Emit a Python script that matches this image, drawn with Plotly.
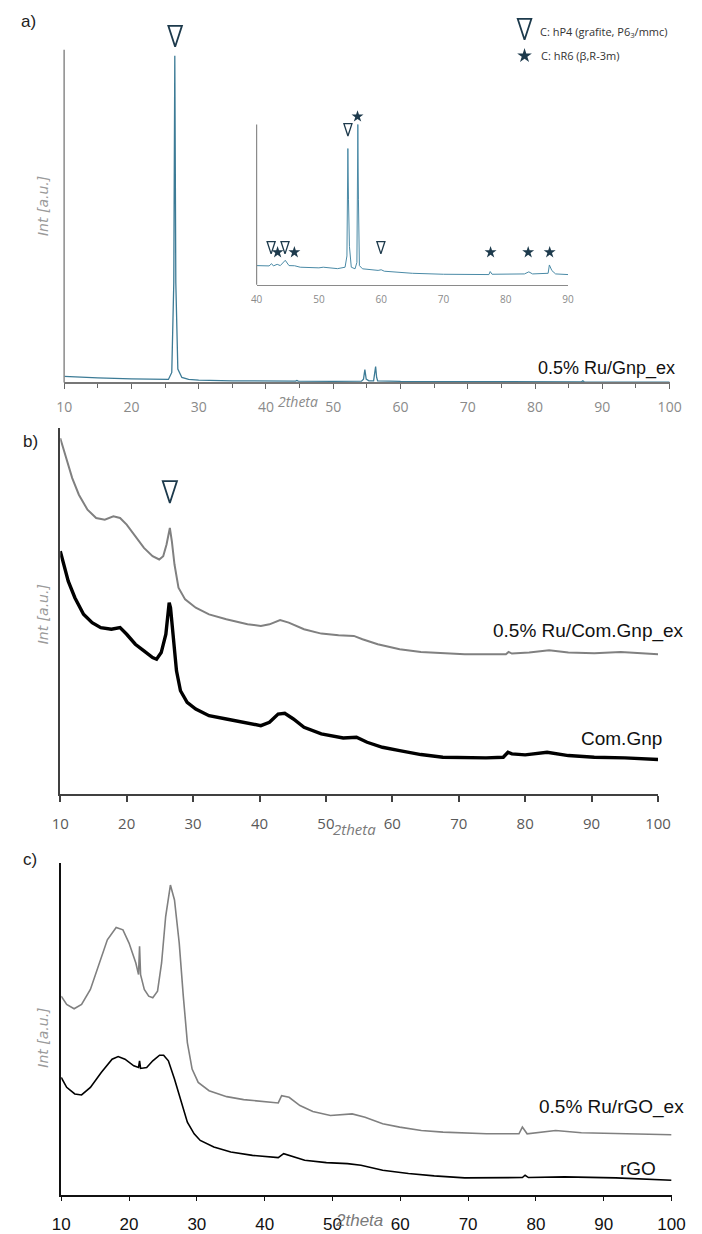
"""
XRD patterns of the Ru / carbon supports, three stacked panels:
a) 0.5% Ru/Gnp_ex with a 40-90 inset, b) Com.Gnp pair, c) rGO pair.
"""

import plotly.graph_objects as go

W, H = 702, 1234

# ---- panel a: 0.5% Ru/Gnp_ex, full scan (intensity in arb. units, axis top = 1000)
A_X = [10, 12, 15, 20, 23.8, 24.0, 24.2, 25.5, 26.0, 26.3, 26.45, 26.6, 26.9, 27.5,
       28.5, 30, 35, 40, 44.4, 44.6, 44.8, 50, 54.2, 54.5, 54.7, 54.9, 55.3, 56.0,
       56.2, 56.3, 56.45, 56.6, 60, 70, 80, 86.9, 87.1, 87.3, 100]
A_Y = [18, 16, 14, 11, 9, 11, 9, 9, 30, 300, 982, 300, 40, 15,
       9, 7, 5, 4, 4, 6, 4, 3, 4, 10, 39, 10, 5, 5,
       30, 48, 15, 5, 3, 2, 2, 2, 5, 2, 1]

# ---- inset of panel a (40-90 deg, axis top = 100)
IN_X = [40, 42, 42.4, 42.7, 43.3, 43.8, 44.6, 45.2, 46.1, 47, 50, 50.7, 53, 54.2,
        54.5, 54.65, 54.75, 54.9, 55.2, 55.8, 56.1, 56.25, 56.35, 56.5, 57, 59.5,
        60, 60.5, 65, 70, 77.3, 77.5, 77.8, 83, 83.7, 84.3, 86.8, 87.0, 87.4, 88, 90]
IN_Y = [12.0, 11.8, 13.2, 11.8, 12.8, 12.0, 15.3, 12.0, 11.9, 11.0, 10.6, 11.0, 10.1, 11.0,
        18, 85, 53, 24, 11, 10, 14, 100, 53, 12, 10, 9.0,
        9.4, 8.5, 7.2, 6.6, 6.4, 8.3, 6.6, 6.8, 8.1, 6.8, 7.2, 12.4, 8.9, 6.8, 6.4]

# phase markers (reflection positions)
HP4_A_X, HP4_A_Y = [26.5], [1009]
HP4_IN_X = [42.33, 44.56, 54.66, 59.95]
HP4_IN_Y = [19.3, 19.3, 92.8, 19.3]
HR6_IN_X = [43.37, 46.06, 56.2, 77.56, 83.6, 87.05]
HR6_IN_Y = [20.3, 20.3, 105, 20.3, 20.3, 20.3]

# ---- panel b (axis top = 110)
B1_X = [10, 10.85, 11.8, 12.8, 14.1, 15.4, 16.7, 18.0, 19.0, 20.0, 21.3, 22.6, 23.9,
        24.9, 25.5, 26.0, 26.5, 26.8, 27.2, 27.8, 28.8, 30.4, 32.4, 35.0, 38.2, 40.2,
        41.5, 43.1, 44.4, 46.7, 49.3, 51.9, 54.2, 55.5, 57.8, 61.1, 64.3, 67.6, 70.9,
        74.1, 77.1, 77.5, 78.0, 80.6, 83.6, 86.5, 90.4, 94.4, 97.6, 100]
B1_Y = [107, 101, 95, 90, 85.5, 83, 82.5, 83.5, 83, 81, 77.5, 74, 71.5,
        70.5, 71.5, 75, 80, 76, 69, 62, 58.5, 56, 54, 52.5, 51, 50.5,
        51, 52.3, 51.5, 49.5, 48.2, 47.7, 47.5, 46.5, 45, 43.5, 42.7, 42.3, 42,
        42, 42, 42.7, 42.2, 42.5, 43.2, 42.5, 42.3, 42.7, 42.2, 42]
B2_X = [10, 10.5, 11.2, 12.2, 13.5, 14.8, 16.1, 17.7, 19.0, 20.0, 21.3, 22.6, 23.9,
        24.5, 25.2, 25.9, 26.4, 26.6, 27.0, 27.5, 28.1, 29.1, 30.4, 32.4, 35.0, 37.6,
        40.2, 41.5, 42.8, 43.8, 45.1, 46.7, 49.3, 52.6, 54.6, 56.2, 58.5, 61.1, 64.3,
        67.6, 70.9, 74.1, 76.7, 77.4, 78.0, 80.0, 83.3, 86.5, 90.4, 95.0, 100]
B2_Y = [73, 69, 64, 59, 54, 51.5, 50, 49.5, 50, 48, 45, 43, 41,
        40.5, 42.5, 48, 57.5, 56, 47, 37, 31, 27.5, 25.5, 23.5, 22.5, 21.5,
        20.5, 21.5, 24, 24.2, 22.5, 20, 18, 16.8, 17, 15.5, 14, 13, 11.8,
        11, 10.8, 10.8, 11, 12.5, 12, 11.7, 12.5, 11.5, 11, 10.8, 10.3]
HP4_B_X, HP4_B_Y = [26.5], [87.5]

# ---- panel c (axis top = 100)
C1_X = [10, 10.8, 11.9, 13.0, 14.3, 15.6, 16.8, 18.1, 19.1, 20.0, 21.0, 21.4, 21.55,
        21.7, 22.25, 22.9, 23.5, 24.2, 24.8, 25.4, 26.1, 26.7, 27.4, 28.0, 28.6, 29.3,
        30.2, 31.8, 34.4, 36.9, 39.5, 42.0, 42.5, 43.6, 45.2, 47.1, 49.7, 52.9, 54.8,
        57.4, 59.9, 63.1, 66.3, 69.5, 72.7, 77.5, 78.0, 78.7, 82.9, 86.7, 91.8, 100]
C1_Y = [60, 57.5, 56.2, 57.5, 62, 70, 77, 80.7, 80, 76, 70, 66.5, 75,
        66.5, 62, 60, 59.5, 61.5, 70, 84, 93.5, 89, 76, 60, 46, 38,
        34, 31.5, 29.7, 28.8, 28.3, 27.8, 30, 29.5, 27, 25.2, 24, 24.5, 23.5,
        21.5, 20.5, 19.5, 19, 18.8, 18.5, 18.5, 20.5, 18.5, 19.5, 18.8, 18.5, 18.2]
C2_X = [10, 10.8, 12.0, 13.0, 14.3, 15.9, 17.5, 18.4, 19.4, 20.7, 21.4, 21.55, 21.7,
        22.6, 23.5, 24.5, 25.1, 25.8, 26.7, 27.7, 28.6, 29.6, 30.5, 32.5, 35.0, 38.2,
        42.0, 42.8, 43.6, 45.9, 49.1, 52.2, 54.2, 57.4, 61.2, 65.0, 69.5, 73.9, 78.0,
        78.4, 78.9, 84.2, 91.8, 100]
C2_Y = [35.5, 32.5, 30.5, 30.2, 32.5, 37, 41, 41.8, 41, 39, 38.5, 40.5, 38.2,
        38.5, 40.5, 42.2, 42.2, 40.5, 35, 28, 22, 18.5, 16.5, 14.5, 13, 12,
        11.3, 12.5, 12, 10.5, 9.8, 9.5, 9, 7.5, 6.5, 5.8, 5.2, 5.2, 5.3,
        6, 5.3, 5.5, 5.2, 4.5]

X_TICKS = [10, 20, 30, 40, 50, 60, 70, 80, 90, 100]
INSET_TICKS = [40, 50, 60, 70, 80, 90]

TEAL = "#3c7b96"
NAVY = "#1d3a4c"
SANS = "Liberation Sans, Arial, sans-serif"

# panel a: y axis drawn 384 -> 50 px for 0..1000, headroom kept for the peak marker
A_BOTTOM, A_TOP, A_MAX = 384, 50, 1030
IN_BOTTOM, IN_TOP, IN_MAX = 286, 125, 108

# page has a default body margin; drop it so the figure sits at the window corner
NO_MARGIN_JS = ("document.body.style.margin='0';"
                "document.body.style.padding='0';"
                "document.body.style.overflow='hidden';")


def px(x):
    return x / W


def py(y):
    return 1 - y / H


def text(fig, s, x, y, size, color="#222", xanchor="center", font=SANS,
         italic=False, angle=0):
    fig.add_annotation(
        x=px(x), y=py(y), xref="paper", yref="paper", text=s, showarrow=False,
        xanchor=xanchor, yanchor="middle", textangle=angle,
        font=dict(size=size, color=color, family=font,
                  style="italic" if italic else "normal"),
    )


def vline(fig, x, y0, y1, color, width):
    fig.add_shape(type="line", xref="paper", yref="paper",
                  x0=px(x), x1=px(x), y0=py(y0), y1=py(y1),
                  line=dict(color=color, width=width))


def tri(size, lw):
    return dict(symbol="arrow", angle=180, size=size, color="white",
                line=dict(color=NAVY, width=lw))


def build_figure():
    fig = go.Figure()

    # panel a
    fig.add_trace(go.Scatter(x=A_X, y=A_Y, xaxis="x", yaxis="y", mode="lines",
                             line=dict(color=TEAL, width=1.3)))
    fig.add_trace(go.Scatter(x=HP4_A_X, y=HP4_A_Y, xaxis="x", yaxis="y", mode="markers",
                             cliponaxis=False, marker=tri(22, 1.8)))
    # inset
    fig.add_trace(go.Scatter(x=IN_X, y=IN_Y, xaxis="x2", yaxis="y2", mode="lines",
                             line=dict(color="#4a8aa6", width=1)))
    fig.add_trace(go.Scatter(x=HP4_IN_X, y=HP4_IN_Y, xaxis="x2", yaxis="y2", mode="markers",
                             cliponaxis=False, marker=tri(13, 1.3)))
    fig.add_trace(go.Scatter(x=HR6_IN_X, y=HR6_IN_Y, xaxis="x2", yaxis="y2", mode="markers",
                             cliponaxis=False,
                             marker=dict(symbol="star", size=9, color=NAVY,
                                         line=dict(width=0))))
    # panel b
    fig.add_trace(go.Scatter(x=B1_X, y=B1_Y, xaxis="x3", yaxis="y3", mode="lines",
                             line=dict(color="#808080", width=2)))
    fig.add_trace(go.Scatter(x=B2_X, y=B2_Y, xaxis="x3", yaxis="y3", mode="lines",
                             line=dict(color="#000000", width=3.4)))
    fig.add_trace(go.Scatter(x=HP4_B_X, y=HP4_B_Y, xaxis="x3", yaxis="y3", mode="markers",
                             cliponaxis=False, marker=tri(23, 1.8)))
    # panel c
    fig.add_trace(go.Scatter(x=C1_X, y=C1_Y, xaxis="x4", yaxis="y4", mode="lines",
                             line=dict(color="#808080", width=1.6)))
    fig.add_trace(go.Scatter(x=C2_X, y=C2_Y, xaxis="x4", yaxis="y4", mode="lines",
                             line=dict(color="#000000", width=1.6)))

    # legend keys on a pixel-unit overlay axis
    fig.add_trace(go.Scatter(x=[533], y=[40], xaxis="x5", yaxis="y5", mode="markers",
                             cliponaxis=False, marker=tri(22, 1.8)))
    fig.add_trace(go.Scatter(x=[533], y=[56], xaxis="x5", yaxis="y5", mode="markers",
                             cliponaxis=False,
                             marker=dict(symbol="star", size=11, color=NAVY,
                                         line=dict(width=0))))

    a_scale = (A_BOTTOM - A_TOP) / 1000
    in_scale = (IN_BOTTOM - IN_TOP) / 100
    grey_a = "#8a8a8a"
    fig.update_layout(
        width=W, height=H, autosize=False, showlegend=False,
        margin=dict(l=0, r=0, t=0, b=0),
        paper_bgcolor="white", plot_bgcolor="rgba(0,0,0,0)",
        xaxis=dict(domain=[px(57), px(683)], range=[10, 100], anchor="y",
                   tickvals=X_TICKS, ticks="outside", ticklen=5, tickwidth=1.2,
                   tickcolor="#666", showline=True, linecolor="#777", linewidth=2,
                   showgrid=False, zeroline=False, ticklabelstandoff=6,
                   tickfont=dict(family="Open Sans", size=14, color=grey_a),
                   minor=dict(dtick=5, tick0=5, ticks="outside", ticklen=4,
                              tickcolor="#666", showgrid=False)),
        yaxis=dict(domain=[py(A_BOTTOM), py(A_BOTTOM - A_MAX * a_scale)],
                   range=[0, A_MAX], anchor="x", showline=False,
                   showticklabels=False, ticks="", showgrid=False, zeroline=False),
        xaxis2=dict(domain=[px(256), px(578)], range=[40, 90], anchor="y2",
                    tickvals=INSET_TICKS, ticks="", showline=True, linecolor="#8a8a8a",
                    linewidth=1.2, showgrid=False, zeroline=False, ticklabelstandoff=5,
                    tickfont=dict(family="Open Sans", size=10, color="#8a8a8a")),
        yaxis2=dict(domain=[py(IN_BOTTOM), py(IN_BOTTOM - IN_MAX * in_scale)],
                    range=[0, IN_MAX], anchor="x2", showline=False,
                    showticklabels=False, ticks="", showgrid=False, zeroline=False),
        xaxis3=dict(domain=[px(53), px(671)], range=[10, 100], anchor="y3",
                    tickvals=X_TICKS, ticks="outside", ticklen=6, tickwidth=1.5,
                    tickcolor="#404040", showline=True, linecolor="#404040", linewidth=1.5,
                    showgrid=False, zeroline=False, ticklabelstandoff=9,
                    tickfont=dict(family="Open Sans", size=15, color="#595959")),
        yaxis3=dict(domain=[py(797), py(430)], range=[0, 110], anchor="x3",
                    showline=True, linecolor="#404040", linewidth=1.5,
                    showticklabels=False, ticks="", showgrid=False, zeroline=False),
        xaxis4=dict(domain=[px(54), px(685)], range=[10, 100], anchor="y4",
                    tickvals=X_TICKS, ticks="outside", ticklen=4, tickwidth=1.2,
                    tickcolor="#111", showline=True, linecolor="#111",
                    linewidth=1.5, showgrid=False, zeroline=False, ticklabelstandoff=9,
                    tickfont=dict(family=SANS, size=17, color="#111")),
        yaxis4=dict(domain=[py(1200), py(867)], range=[0, 100], anchor="x4",
                    showline=True, linecolor="#111", linewidth=1.5,
                    showticklabels=False, ticks="", showgrid=False, zeroline=False),
        xaxis5=dict(domain=[0, 1], range=[0, W], anchor="y5", visible=False),
        yaxis5=dict(domain=[0, 1], range=[H, 0], anchor="x5", visible=False),
    )

    # y axis lines of panel a and the inset (stop at the nominal axis top)
    vline(fig, 57, A_BOTTOM, A_TOP, "#8a8a8a", 1.5)
    vline(fig, 256, IN_BOTTOM, IN_TOP, "#8a8a8a", 1.2)

    # panel letters
    text(fig, "a)", 20, 22, 17, "#222")
    text(fig, "b)", 22, 443, 17, "#222")
    text(fig, "c)", 22, 863, 17, "#222")

    # phase legend
    text(fig, "C: hP4 (grafite, P6<sub>3</sub>/mmc)", 547, 32, 11, "#333",
         xanchor="left", font="Open Sans")
    text(fig, "C: hR6 (β,R-3m)", 548, 56, 11, "#333", xanchor="left", font="Open Sans")

    # sample labels
    text(fig, "0.5% Ru/Gnp_ex", 691, 370, 18, "#111", xanchor="right")
    text(fig, "0.5% Ru/Com.Gnp_ex", 700, 634, 19, "#111", xanchor="right")
    text(fig, "Com.Gnp", 677, 742, 19, "#111", xanchor="right")
    text(fig, "0.5% Ru/rGO_ex", 700, 1112, 19, "#111", xanchor="right")
    text(fig, "rGO", 671, 1173, 19, "#111", xanchor="right")

    # axis titles
    for y in (207, 617, 1042):
        text(fig, "Int [a.u.]", 35, y, 14, "#9a9a9a", font="DejaVu Sans",
             italic=True, angle=-90)
    text(fig, "2theta", 299, 403, 14, "#8a8a8a", font="Open Sans", italic=True)
    text(fig, "2theta", 357, 832, 15, "#7a7a7a", font="Open Sans", italic=True)
    text(fig, "2theta", 362, 1225, 17, "#7a7a7a", italic=True)

    return fig


def main():
    fig = build_figure()
    fig.write_html("out.html", post_script=NO_MARGIN_JS,
                   config={"displayModeBar": False})


if __name__ == "__main__":
    main()
